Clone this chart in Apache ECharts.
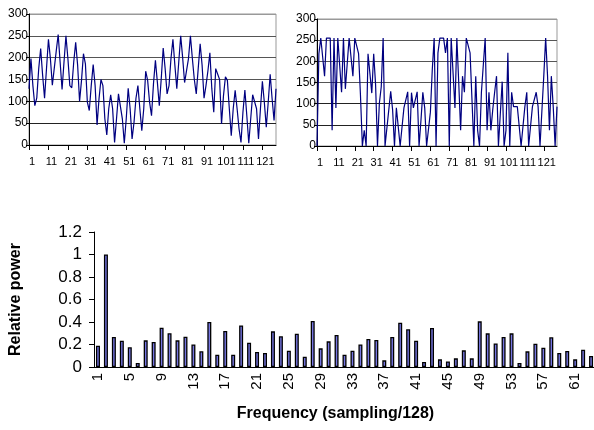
<!DOCTYPE html>
<html>
<head>
<meta charset="utf-8">
<script src="https://cdn.jsdelivr.net/npm/echarts@6/dist/echarts.min.js"></script>
<style>
  html, body { margin: 0; padding: 0; background: #fff; }
  #chart { width: 594px; height: 430px; }
</style>
</head>
<body>
<div id="chart"></div>
<script>
// signal sampled 128 times (left), same signal clipped/quantised (right)
const rawSignal = [
  129, 198, 136, 90, 108, 175, 221, 160, 107, 175,
  242, 198, 137, 140, 215, 253, 190, 127, 190, 250,
  198, 136, 131, 190, 235, 183, 100, 148, 209, 186,
  98, 79, 136, 184, 136, 46, 106, 150, 136, 60,
  23, 83, 115, 83, 6, 60, 117, 118, 60, 4,
  60, 130, 83, 14, 52, 107, 136, 83, 33, 83,
  169, 148, 98, 67, 140, 194, 144, 90, 152, 222,
  175, 117, 136, 198, 242, 183, 129, 190, 250, 200,
  143, 140, 198, 250, 198, 150, 117, 175, 232, 183,
  107, 136, 170, 211, 129, 75, 175, 171, 150, 48,
  113, 156, 148, 83, 21, 83, 125, 83, 37, 6,
  75, 126, 67, 4, 60, 115, 118, 83, 14, 83,
  146, 98, 41, 98, 162, 106, 56, 129
];
const clippedSignal = [
  0, 218, 255, 255, 165, 255, 255, 255, 37, 255,
  90, 255, 255, 127, 255, 135, 195, 255, 255, 165,
  255, 255, 218, 120, 0, 37, 0, 218, 218, 125,
  218, 145, 0, 101, 140, 255, 0, 0, 86, 129,
  86, 0, 90, 90, 0, 0, 90, 90, 128, 0,
  126, 90, 90, 128, 0, 60, 127, 90, 0, 0,
  80, 180, 255, 0, 220, 255, 255, 255, 220, 255,
  0, 255, 255, 90, 255, 150, 37, 165, 127, 255,
  255, 220, 220, 0, 165, 37, 0, 127, 127, 255,
  37, 127, 37, 86, 127, 165, 0, 0, 152, 0,
  37, 220, 0, 127, 93, 93, 93, 93, 0, 0,
  93, 127, 0, 0, 93, 93, 127, 93, 0, 0,
  165, 255, 165, 37, 165, 93, 0, 93
];
// power spectrum, 64 frequency bins
const relPower = [
  0.19, 1.0, 0.267, 0.234, 0.175, 0.036, 0.237, 0.222, 0.35, 0.30,
  0.237, 0.27, 0.20, 0.14, 0.40, 0.11, 0.32, 0.11, 0.37, 0.216,
  0.133, 0.124, 0.317, 0.273, 0.145, 0.296, 0.092, 0.409, 0.166, 0.228,
  0.284, 0.11, 0.145, 0.20, 0.249, 0.24, 0.059, 0.267, 0.394, 0.335,
  0.234, 0.044, 0.347, 0.068, 0.05, 0.077, 0.148, 0.077, 0.406, 0.299,
  0.21, 0.267, 0.299, 0.036, 0.139, 0.207, 0.172, 0.264, 0.124, 0.142,
  0.068, 0.154, 0.098, 0.12
];
const sampleLabels = rawSignal.map((_, i) => String(i + 1));
const freqLabels = relPower.map((_, i) => String(i + 1));

const FONT = "'Liberation Sans', Arial, sans-serif";
const GRID_LINES = ["#222", "#222", "#222", "#555", "#555", "#555", "#999"];

function topX(gridIndex) {
  return {
    gridIndex, type: "category", data: sampleLabels, boundaryGap: false,
    axisLine: { lineStyle: { color: "#000", width: 1 } },
    axisTick: { interval: 9, length: 5, lineStyle: { color: "#000" } },
    axisLabel: { interval: 9, color: "#000", fontSize: 11, margin: 11, padding: [0, 0, 0, 6] },
  };
}
function topY(gridIndex) {
  return {
    gridIndex, type: "value", min: 0, max: 300, interval: 50,
    axisLine: { show: true, lineStyle: { color: "#000" } },
    axisTick: { show: true, length: 3, lineStyle: { color: "#000" } },
    axisLabel: { color: "#000", fontSize: 12, margin: 1 },
    splitLine: { show: true, lineStyle: { color: GRID_LINES, width: 1 } },
  };
}

const chart = echarts.init(document.getElementById("chart"), null, { renderer: "canvas" });
chart.setOption({
  animation: false,
  backgroundColor: "#fff",
  textStyle: { fontFamily: FONT },
  grid: [
    { left: 29, top: 14, width: 247, height: 131, show: true, borderColor: "#999", borderWidth: 1, outerBoundsMode: "none" },
    { left: 317, top: 19, width: 240, height: 127, show: true, borderColor: "#999", borderWidth: 1, outerBoundsMode: "none" },
    { left: 94, top: 232, width: 509, height: 135, outerBoundsMode: "none" },
  ],
  xAxis: [
    topX(0),
    topX(1),
    {
      gridIndex: 2, type: "category", data: freqLabels,
      axisLine: { lineStyle: { color: "#000" } },
      axisTick: { interval: 0, length: 4, lineStyle: { color: "#666" } },
      axisLabel: { interval: 3, rotate: 90, color: "#000", fontSize: 15, margin: 6 },
      name: "Frequency (sampling/128)", nameLocation: "middle", nameGap: 39,
      nameTextStyle: { fontWeight: "bold", fontSize: 16, color: "#000", padding: [0, 26, 0, 0] },
    },
  ],
  yAxis: [
    topY(0),
    topY(1),
    {
      gridIndex: 2, type: "value", min: 0, max: 1.2, interval: 0.2,
      axisLine: { show: true, lineStyle: { color: "#000" } },
      axisTick: { show: true, length: 5, lineStyle: { color: "#000" } },
      axisLabel: { color: "#000", fontSize: 17, margin: 12 },
      splitLine: { show: false },
      name: "Relative power", nameLocation: "middle", nameGap: 70,
      nameTextStyle: { fontWeight: "bold", fontSize: 16, color: "#000" },
    },
  ],
  series: [
    {
      type: "line", xAxisIndex: 0, yAxisIndex: 0, data: rawSignal,
      symbol: "none", lineStyle: { color: "#000080", width: 1.2 },
    },
    {
      type: "line", xAxisIndex: 1, yAxisIndex: 1, data: clippedSignal,
      symbol: "none", lineStyle: { color: "#000080", width: 1.2 },
    },
    {
      type: "bar", xAxisIndex: 2, yAxisIndex: 2, data: relPower, barWidth: 4,
      itemStyle: { color: "#7676e2", borderColor: "#000", borderWidth: 1.3 },
    },
  ],
});
</script>
</body>
</html>
